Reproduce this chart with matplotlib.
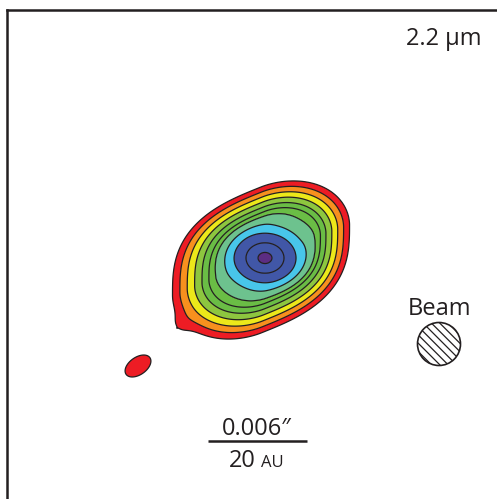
import numpy as np
import matplotlib.pyplot as plt
from matplotlib.patches import Circle

plt.rcParams['font.family'] = ['Open Sans', 'DejaVu Sans']
plt.rcParams['hatch.linewidth'] = 0.9

# contour levels (outermost first), fill colours, and ring radius as a
# fraction of the outer edge
levels = [1, 2, 3, 4, 5, 6, 7, 8, 9, 10, 11]
band_colors = ['#ed1c24', '#f7901e', '#ece81a', '#8dc63f', '#6abd45', '#6abd45',
               '#6dc28e', '#48c6ea', '#4157a7', '#4157a7', '#5c2d82']
ring_frac = [1.0, 0.925, 0.85, 0.775, 0.70, 0.63, 0.565, 0.447, 0.330, 0.202, 0.074]
peak_level = 11.6

# outer edge: sheared super-ellipse (pixel units)
env_center = [261.0, 260.0]
env_half = [88.5, 73.0]
env_shear = 0.40
env_power = [1.8, 3.0]      # acute corners, obtuse corners
env_drift = [10, -7]        # inner rings sit toward the upper right

# inner rings turn round: elliptical radius around the peak
core_xy = [265, 258]
core_radius = 94
core_yscale = 0.8
blend_range = [0.36, 0.64]  # fraction where rings go from round to outer shape

# additive gaussian components: lower-left bulge, knot
comp_x = [177, 138]
comp_y = [328, 366]
comp_amp = [1.0, 1.6]
comp_sa = [9, 15]
comp_sb = [9, 9]
comp_ang = [0, 35]

beam_xy = (439, 344)
beam_r = 21.5
bar_x = (208, 307)
bar_y = 441

# ---- build the intensity map on the pixel grid
xx, yy = np.meshgrid(np.arange(7, 498, 1.0), np.arange(10, 500, 1.0))


def envelope(cx, cy):
    u = xx - cx
    v = (yy - cy) + env_shear * u
    n = np.where(u * v < 0, env_power[0], env_power[1])
    return (np.abs(u / env_half[0]) ** n + np.abs(v / env_half[1]) ** n) ** (1 / n)


q = envelope(env_center[0], env_center[1])
for _ in range(2):
    k = 1 - np.clip(q, 0, 1)
    q = envelope(env_center[0] + k * env_drift[0], env_center[1] + k * env_drift[1])

p = np.hypot(xx - core_xy[0], (yy - core_xy[1]) / core_yscale) / core_radius
s = np.clip((q - blend_range[0]) / (blend_range[1] - blend_range[0]), 0, 1)
w = s * s * (3 - 2 * s)
m = w * q + (1 - w) * p

frac_axis = [0.0] + ring_frac[::-1] + [1.08]
level_axis = [peak_level] + levels[::-1] + [0]
field = np.interp(m, frac_axis, level_axis)

for cx, cy, A, sa, sb, ang in zip(comp_x, comp_y, comp_amp, comp_sa, comp_sb, comp_ang):
    th = np.deg2rad(ang)
    dx, dy = xx - cx, -(yy - cy)
    along = dx * np.cos(th) + dy * np.sin(th)
    across = -dx * np.sin(th) + dy * np.cos(th)
    field += A * np.exp(-0.5 * ((along / sa) ** 2 + (across / sb) ** 2))

# ---- figure
fig = plt.figure(figsize=(4.97, 4.99), dpi=100)
ax = fig.add_axes([6.5 / 497, -41 / 499, (540 - 6.5) / 497, (540 - 9.5) / 499])
ax.set_xlim(6.5, 540)
ax.set_ylim(540, 9.5)
ax.set_xticks([])
ax.set_yticks([])
for side in ['right', 'bottom']:
    ax.spines[side].set_visible(False)
for side in ['left', 'top']:
    ax.spines[side].set_linewidth(1.8)
    ax.spines[side].set_color('#231f20')

ax.contourf(xx, yy, field, levels=levels + [field.max() + 1], colors=band_colors, antialiased=True)
ax.contour(xx, yy, field, levels=levels, colors='#231f20', linewidths=0.9)

ax.add_patch(Circle(beam_xy, beam_r, facecolor='white', edgecolor='#231f20',
                    lw=1.2, hatch='\\\\\\\\'))
ax.text(beam_xy[0], 315, 'Beam', ha='center', va='baseline', fontsize=17, color='#231f20')
ax.text(482, 45, '2.2 µm', ha='right', va='baseline', fontsize=17, color='#231f20')

ax.plot(bar_x, [bar_y, bar_y], color='#231f20', lw=1.8, solid_capstyle='butt')
ax.text(257, 435, '0.006\u2033', ha='center', va='baseline', fontsize=17, color='#231f20')
ax.text(256, 467, '20', ha='right', va='baseline', fontsize=17, color='#231f20')
ax.text(261, 467, 'AU', ha='left', va='baseline', fontsize=12, color='#231f20')

fig.savefig('out.png', dpi=100)
